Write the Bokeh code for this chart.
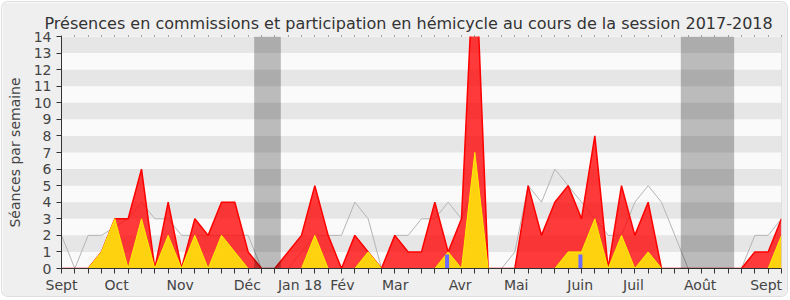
from bokeh.plotting import figure
from bokeh.models import FixedTicker, BoxAnnotation, Span, LinearAxis, Range1d, ColumnDataSource
from bokeh.embed import file_html
from bokeh.resources import INLINE

# ---- data (weekly values, session 2017-2018) ----
weeks = list(range(55))
total = [0, 0, 0, 1, 3, 3, 6, 0, 4, 0, 3, 2, 4, 4, 1, 0, 0, 1, 2, 5,
         2, 0, 2, 1, 0, 2, 1, 1, 4, 1, 3, 20, 0, 0, 0, 5, 2, 4, 5, 3,
         8, 0, 5, 2, 4, 0, 0, 0, 0, 0, 0, 0, 1, 1, 3]
commission = [0, 0, 0, 1, 3, 0, 3, 0, 2, 0, 2, 0, 2, 1, 0, 0, 0, 0, 0, 2,
              0, 0, 0, 1, 0, 0, 0, 0, 0, 1, 0, 7, 0, 0, 0, 0, 0, 0, 1, 1,
              3, 0, 2, 0, 1, 0, 0, 0, 0, 0, 0, 0, 0, 0, 2]
median = [2, 0, 2, 2, 2.5, 3, 4, 3, 3, 2, 2, 2, 2, 2, 2, 0, 0, 0, 1, 2,
          2, 2, 4, 3, 0, 2, 2, 3, 3, 4, 3, 5, 0, 0, 1, 5, 4, 6, 5, 4,
          3, 2, 2, 4, 5, 4, 2, 0, 0, 0, 0, 0, 2, 2, 3]
question_weeks = [29, 39]
question_vals = [0.85, 0.85]
month_labels = ["Sept", "Oct", "Nov", "Déc", "Jan 18", "Fév", "Mar", "Avr",
                "Mai", "Juin", "Juil", "Août", "Sept"]
month_pos = [0, 4.14, 8.9, 13.94, 17.88, 21.07, 25.03, 29.9, 34.1, 38.9,
             42.9, 47.9, 52.85]
holidays = [(14.45, 16.45), (46.45, 50.45)]
y_ticks = list(range(15))

FONT = "DejaVu Sans"

p = figure(width=785, height=294, margin=(2, 3, 4, 2),
           output_backend="svg", toolbar_location=None,
           x_range=Range1d(0, 54), y_range=Range1d(0, 14),
           min_border_left=59, min_border_right=6, min_border_top=34,
           min_border_bottom=28, background_fill_color="#fafafa",
           border_fill_color="#efefef", outline_line_color=None,
           title="Présences en commissions et participation en hémicycle au cours de la session 2017-2018")
p.styles = {"border-radius": "6px", "box-shadow": "0 0 0 1px #dddddd", "overflow": "hidden"}

p.title.align = "left"
p.title.offset = -17
p.title.text_font = FONT
p.title.text_font_size = "16px"
p.title.text_font_style = "normal"
p.title.text_color = "#333333"
p.title.standoff = 6

# grid bands
p.xgrid.visible = False
p.ygrid.ticker = FixedTicker(ticks=y_ticks)
p.ygrid.grid_line_color = None
p.ygrid.band_fill_color = "#e6e6e6"
p.ygrid.band_fill_alpha = 1.0

src = ColumnDataSource(dict(w=weeks, total=total, com=commission, med=median))

p.line("w", "med", source=src, line_color="#b4b4b4", line_width=1)
p.varea(x="w", y1=0, y2="total", source=src, fill_color="#ff0000", fill_alpha=0.77)
p.line("w", "total", source=src, line_color="#ff0000", line_width=1.5)
p.varea(x="w", y1=0, y2="com", source=src, fill_color="#ffd210")
p.line("w", "com", source=src, line_color="#ffee00", line_width=1)

qsrc = ColumnDataSource(dict(x=[w - 0.08 for w in question_weeks], top=question_vals))
p.vbar(x="x", top="top", width=0.3, source=qsrc, fill_color="#6b6bff", line_color=None)

for a, b in holidays:
    p.add_layout(BoxAnnotation(left=a, right=b, fill_color="black", fill_alpha=0.25, line_color=None))

p.add_layout(Span(location=54, dimension="height", line_color="#cccccc", line_width=1))

# axes
xa = p.xaxis[0]
xa.ticker = FixedTicker(ticks=month_pos, minor_ticks=weeks)
xa.major_label_overrides = {pos: lab for pos, lab in zip(month_pos, month_labels)}
xa.major_tick_line_color = None
xa.minor_tick_line_color = "#333333"
xa.minor_tick_out = 5
xa.minor_tick_in = 0
xa.axis_line_color = "#333333"
xa.major_label_standoff = 2
xa.major_label_text_font = FONT
xa.major_label_text_font_size = "14px"
xa.major_label_text_color = "#444444"

ya = p.yaxis[0]
ya.ticker = FixedTicker(ticks=y_ticks)
ya.minor_tick_line_color = None
ya.major_tick_out = 5
ya.major_tick_in = 0
ya.major_tick_line_color = "#333333"
ya.axis_line_color = "#333333"
ya.major_label_standoff = 5
ya.major_label_text_font = FONT
ya.major_label_text_font_size = "14px"
ya.major_label_text_color = "#444444"
ya.axis_label = "Séances par semaine"
ya.axis_label_text_font = FONT
ya.axis_label_text_font_size = "14px"
ya.axis_label_text_font_style = "normal"
ya.axis_label_text_color = "#444444"
ya.axis_label_standoff = 8

top_axis = LinearAxis(ticker=FixedTicker(ticks=[], minor_ticks=weeks),
                      axis_line_color=None, minor_tick_line_color="#555555",
                      minor_tick_out=1, minor_tick_in=0,
                      major_label_text_font_size="0px", major_label_standoff=0,
                      major_tick_line_color=None)
p.add_layout(top_axis, "above")

open("out.html", "w").write(file_html(p, INLINE))
